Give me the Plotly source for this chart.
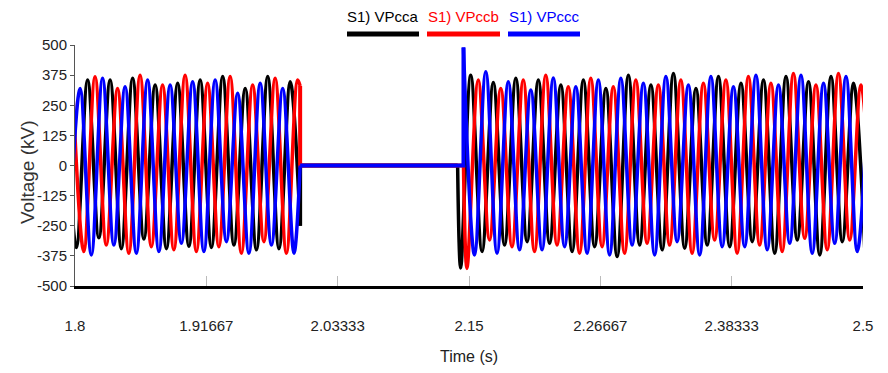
import plotly.graph_objects as go

# ---------------- data ----------------
PERIOD = 0.02          # 50 Hz, read from peak spacing
T_CUT = 2.0            # voltage collapses to zero
T_START_A = 2.1399     # phase a re-energised
T_START_BC = 2.1451    # phases b, c re-energised

# Phase a (black) before the outage: peaks from 1.7912, troughs from 1.8012
va_pre_peaks = [340, 355, 355, 362, 334, 341, 355, 369, 320, 369, 348]
va_pre_troughs = [-340, -300, -345, -305, -345, -335, -340, -330, -350, -345]
va_cut = -250
# Phase b (red) before: peaks from 1.7978, troughs from 1.8078
vb_pre_peaks = [340, 368, 320, 375, 334, 375, 341, 369, 334, 362, 355]
vb_pre_troughs = [-357, -330, -364, -337, -350, -357, -337, -364, -316, -364]
vb_cut = 330
# Phase c (blue) before: troughs from 1.7945, peaks from 1.8045
vc_pre_troughs = [-350, -371, -330, -364, -357, -323, -357, -316, -364, -330, -364]
vc_pre_peaks = [320, 362, 327, 355, 334, 348, 355, 300, 341, 320]
vc_cut = 0

# After re-energisation
va_first_trough = -425          # at 2.1426
va_post_peaks = [375, 344, 362, 355, 334, 355, 320, 375, 334, 382, 320, 369, 341, 355, 369, 348, 369, 341]
va_post_troughs = [-357, -330, -316, -323, -357, -337, -378, -330, -350, -343, -330, -337, -316, -364, -309, -371, -316, -350]
vb_first_trough = -427          # at 2.1482
vb_post_peaks = [355, 320, 355, 375, 327, 362, 327, 355, 334, 355, 341, 355, 369, 341, 382, 334, 382, 334]
vb_post_troughs = [-309, -337, -357, -330, -364, -337, -364, -323, -330, -364, -309, -364, -330, -357, -302, -350, -309, -340]
vc_spike = 490                  # at 2.1451
vc_post_troughs = [-371, -364, -350, -350, -337, -364, -371, -330, -371, -316, -371, -337, -337, -350, -323, -364, -323, -357]
vc_post_peaks = [389, 348, 313, 363, 327, 355, 362, 341, 369, 334, 369, 327, 375, 334, 375, 341, 369, 340]

x_tickvals = [1.8, 1.91667, 2.03333, 2.15, 2.26667, 2.38333, 2.5]
x_ticktext = ["1.8", "1.91667", "2.03333", "2.15", "2.26667", "2.38333", "2.5"]
y_tickvals = [-500, -375, -250, -125, 0, 125, 250, 375, 500]
y_ticktext = ["-500", "-375", "-250", "-125", "0", "125", "250", "375", "500"]
series_names = ["S1) VPcca", "S1) VPccb", "S1) VPccc"]
colors = ["#000000", "#ff0000", "#0000ff"]


def interleave(t0, first, second):
    """Extrema alternate every half period: first[k] at t0+k*P, second[k] at t0+P/2+k*P."""
    ts, vs = [], []
    n = max(len(first), len(second))
    for k in range(n):
        if k < len(first):
            ts.append(t0 + k * PERIOD)
            vs.append(first[k])
        if k < len(second):
            ts.append(t0 + PERIOD / 2 + k * PERIOD)
            vs.append(second[k])
    return ts, vs


segments = {0: [], 1: [], 2: []}

# --- phase a ---
t, v = interleave(1.7912, va_pre_peaks, va_pre_troughs)
segments[0].append(("spline", t + [T_CUT], v + [va_cut]))
segments[0].append(("linear", [T_CUT, T_CUT, T_START_A], [va_cut, 0, 0]))
t, v = interleave(2.1516, va_post_peaks, va_post_troughs)
segments[0].append(("spline", [T_START_A, 2.1426] + t, [0, va_first_trough] + v))

# --- phase b ---
t, v = interleave(1.7978, vb_pre_peaks, vb_pre_troughs)
segments[1].append(("spline", t + [T_CUT], v + [vb_cut]))
segments[1].append(("linear", [T_CUT, T_CUT, T_START_BC], [vb_cut, 0, 0]))
t, v = interleave(2.1582, vb_post_peaks, vb_post_troughs)
segments[1].append(("spline", [T_START_BC, 2.1482] + t, [0, vb_first_trough] + v))

# --- phase c ---
t, v = interleave(1.7945, vc_pre_troughs, vc_pre_peaks)
segments[2].append(("spline", t + [T_CUT], v + [vc_cut]))
segments[2].append(("linear", [T_CUT, T_START_BC, T_START_BC], [vc_cut, 0, vc_spike]))
t, v = interleave(2.1549, vc_post_troughs, vc_post_peaks)
segments[2].append(("spline", [T_START_BC] + t, [vc_spike] + v))

fig = go.Figure()
for i in range(3):
    for j, (shape, xs, ys) in enumerate(segments[i]):
        fig.add_trace(go.Scatter(
            x=xs, y=ys, mode="lines", name=series_names[i],
            legendgroup=series_names[i], showlegend=False,
            line=dict(color=colors[i], width=3.5 if shape == "spline" else 4,
                      shape=shape, smoothing=1.0 if shape == "spline" else None),
            hoverinfo="skip"))

FONT = "Liberation Sans, Arial, sans-serif"

# custom legend: text above a thick colour bar
legend_x = [(347, 419), (427, 500), (508, 580)]
L, R, T, B = 75, 863, 45, 286
W, H = R - L, B - T
shapes, annotations = [], []
for i in range(3):
    x0, x1 = legend_x[i]
    shapes.append(dict(type="line", xref="paper", yref="paper",
                       x0=(x0 - L) / W, x1=(x1 - L) / W,
                       y0=(B - 34) / H, y1=(B - 34) / H,
                       line=dict(color=colors[i], width=5)))
    annotations.append(dict(xref="paper", yref="paper", x=((x0 + x1) / 2 - L) / W,
                            y=(B - 17) / H, text=series_names[i], showarrow=False,
                            font=dict(family=FONT, size=15, color=colors[i]),
                            xanchor="center", yanchor="middle"))

# axis titles
annotations.append(dict(xref="paper", yref="paper", x=(469 - L) / W, y=(B - 356) / H,
                        text="Time (s)", showarrow=False, xanchor="center", yanchor="middle",
                        font=dict(family=FONT, size=16, color="#222222")))
annotations.append(dict(xref="paper", yref="paper", x=(27 - L) / W, y=(B - 172) / H,
                        text="Voltage (kV)", showarrow=False, textangle=-90,
                        xanchor="center", yanchor="middle",
                        font=dict(family=FONT, size=19, color="#333333")))

fig.update_layout(
    width=888, height=373,
    margin=dict(l=L, r=888 - R, t=T, b=373 - B, autoexpand=False),
    paper_bgcolor="white", plot_bgcolor="white",
    showlegend=False,
    shapes=shapes, annotations=annotations,
    xaxis=dict(range=[1.8, 2.5], tickvals=x_tickvals, ticktext=x_ticktext,
               automargin=False,
               showgrid=False, zeroline=False, showline=True, linecolor="black",
               linewidth=3, ticks="inside", ticklen=10, tickcolor="#bbbbbb",
               tickwidth=1, ticklabelstandoff=24,
               tickfont=dict(family=FONT, size=15, color="#222222")),
    yaxis=dict(range=[-500, 500], tickvals=y_tickvals, ticktext=y_ticktext,
               automargin=False,
               showgrid=False, zeroline=False, showline=True, linecolor="#555555",
               linewidth=1, ticks="outside", ticklen=4, tickcolor="#555555",
               tickfont=dict(family=FONT, size=15, color="#222222")),
)

fig.write_html("out.html")
